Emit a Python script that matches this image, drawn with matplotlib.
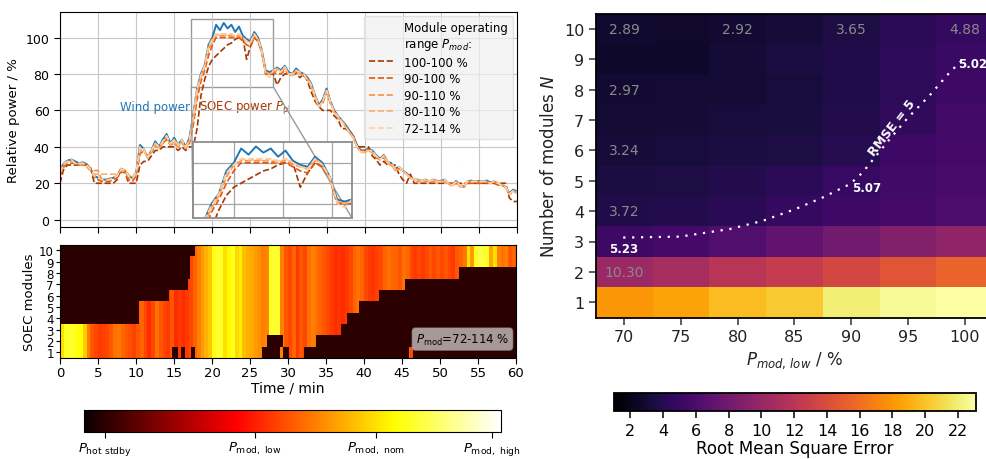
import numpy as np
import matplotlib.pyplot as plt
from matplotlib import colors
from matplotlib.lines import Line2D
from mpl_toolkits.axes_grid1.inset_locator import mark_inset

plt.rcParams['font.family'] = 'DejaVu Sans'

# ---------------- time series (0..60 min, every 0.5 min) ----------------
time = np.arange(0, 60.01, 0.5)

wind = [27, 31, 32.5, 33, 32, 31, 31.5, 30.5, 28, 24,
        23, 22, 22, 22.5, 23, 24, 28, 27, 24, 23,
        26, 41, 39, 34, 38, 43, 40, 44, 47, 42,
        45, 41, 44, 40, 45, 58, 72, 80, 85, 96,
        100, 107, 104, 108, 105, 107, 103, 106, 101, 99,
        98, 103, 100, 93, 82, 81, 82, 83.5, 82, 84.5,
        81, 80, 83, 81, 80, 78, 74.5, 68, 63, 66,
        72, 65, 60, 57, 54.5, 52, 49, 46, 41, 38,
        38, 39, 38, 35.5, 33.5, 35.5, 32, 31, 28, 29,
        27, 25.5, 23.5, 22, 22, 21.3, 22, 21, 22, 21.3,
        21.3, 22, 20, 19, 21.3, 19, 18, 21, 21.5, 21,
        21.3, 21, 21.5, 20.5, 21, 20, 19, 18, 14.5, 16.5,
        15.5]

p_100_100 = [20, 28, 30, 30, 30, 30, 30, 30, 29, 20,
             20, 20, 20, 20, 20, 22, 28, 27, 20, 20,
             20, 30, 32, 32, 35, 38, 38, 40, 40, 40,
             40, 38, 40, 38, 40, 40, 50, 68, 77, 84,
             88, 90, 92, 94, 96, 97, 99, 100, 100, 88,
             95, 100, 98, 92, 80, 80, 80, 74, 78, 80,
             80, 80, 80, 78, 80, 76, 70, 65, 62, 60,
             60, 60, 57, 55, 50, 50, 48, 45, 40, 40,
             40, 40, 35, 33, 30, 32, 30, 30, 30, 25,
             22, 20, 25, 20, 20, 20, 20, 20, 20, 20,
             20, 20, 20, 20, 20, 20, 20, 20, 20, 20,
             20, 20, 20, 20, 20, 20, 20, 20, 12, 10,
             10]

p_90_100 = [24, 29, 31, 31, 31, 30, 30, 30, 28, 23,
            22, 21, 21, 21, 22, 23, 26, 26, 22, 21,
            24, 36, 38, 35, 37, 40, 40, 42, 44, 41,
            42, 40, 42, 40, 42, 52, 66, 76, 82, 90,
            96, 100, 100, 100, 100, 100, 100, 100, 98, 96,
            95, 100, 98, 92, 80, 80, 81, 80, 80, 82,
            80, 79, 81, 80, 79, 77, 73, 68, 62, 64,
            70, 64, 60, 56, 54, 52, 48, 46, 40, 38,
            38, 38, 37, 34, 33, 34, 31, 30, 28, 28,
            27, 25, 23, 22, 21, 21, 21, 21, 21, 21,
            21, 21, 20, 19, 20, 19, 18, 20, 20, 20,
            20, 20, 20, 20, 20, 19, 19, 18, 14, 15,
            15]

p_90_110 = [25, 30, 32, 32, 31, 30, 30, 29, 27, 27,
            27, 22, 22, 22, 23, 24, 27, 27, 23, 22,
            25, 38, 38, 35, 37, 41, 39, 42, 45, 41,
            43, 40, 43, 39, 43, 55, 70, 78, 84, 93,
            99, 101, 101, 101, 101, 101, 100, 101, 99, 98,
            97, 101, 99, 92, 81, 80, 81, 82, 81, 83,
            80, 79, 82, 80, 79, 77, 73, 67, 62, 65,
            71, 64, 59, 56, 54, 51, 48, 45, 40, 37,
            37, 38, 37, 35, 33, 35, 31, 30, 27, 28,
            27, 25, 23, 22, 21, 21, 21, 21, 21, 21,
            21, 21, 20, 19, 21, 19, 18, 21, 21, 21,
            21, 21, 21, 20, 21, 20, 19, 18, 14, 16,
            15]

p_80_110 = [26, 30, 32, 32, 31, 30, 31, 30, 27, 25,
            25, 25, 25, 25, 25, 25, 27, 27, 25, 23,
            25, 39, 38, 34, 37, 42, 39, 43, 46, 41,
            44, 40, 43, 39, 44, 56, 71, 79, 84, 95,
            99, 102, 101, 102, 101, 102, 100, 102, 100, 98,
            97, 102, 99, 92, 81, 80, 81, 83, 81, 84,
            80, 79, 82, 80, 79, 77, 73, 67, 62, 65,
            71, 64, 59, 56, 54, 51, 48, 45, 40, 37,
            37, 38, 37, 35, 33, 35, 31, 30, 27, 28,
            27, 25, 23, 22, 22, 21, 22, 21, 22, 21,
            21, 21, 20, 18, 21, 18, 18, 21, 21, 21,
            21, 21, 21, 20, 21, 20, 19, 18, 14, 16,
            15]

p_72_114 = [26, 31, 32, 33, 31, 31, 31, 30, 28, 24,
            23, 22, 22, 22, 23, 24, 28, 27, 24, 23,
            26, 40, 39, 34, 38, 42, 40, 43, 46, 42,
            44, 41, 44, 40, 44, 57, 72, 79, 85, 95,
            99, 102, 102, 102, 102, 102, 101, 102, 100, 98,
            97, 102, 99, 93, 80, 78, 82, 83, 81, 84,
            80, 80, 82, 81, 80, 77, 74, 68, 62, 65,
            71, 65, 59, 57, 54, 51, 48, 45, 40, 37,
            38, 38, 38, 35, 33, 35, 32, 31, 28, 29,
            27, 25, 23, 22, 22, 21, 22, 21, 22, 21,
            21, 22, 20, 19, 21, 19, 18, 21, 21, 21,
            21, 21, 21, 20, 21, 20, 19, 18, 14, 16,
            15]

range_labels = ['100-100 %', '90-100 %', '90-110 %', '80-110 %', '72-114 %']
range_series = [p_100_100, p_90_100, p_90_110, p_80_110, p_72_114]
range_colors = ['#a63603', '#e6550d', '#fd8d3c', '#fdae6b', '#fdd0a2']

# ---------------- module states for P_mod = 72-114 % ----------------
# intervals (min) in which each module is running, else hot standby
module_on = {
    1: [(0, 14.7), (15.5, 15.9), (16.5, 17.3), (17.8, 26.6), (29.0, 29.4), (30.1, 32.1), (45.9, 46.5)],
    2: [(0, 27.3), (29.3, 33.7)],
    3: [(0, 37.0)],
    4: [(10.4, 37.7)],
    5: [(10.4, 39.4)],
    6: [(14.4, 42.0)],
    7: [(16.9, 45.4)],
    8: [(17.1, 52.5)],
    9: [(17.1, 60)],
    10: [(17.8, 60)],
}
# load of the running modules in % (per 0.5 min)
module_load = [100, 104, 105, 104, 103, 102, 97, 86, 80, 78,
               76, 77, 78, 80, 84, 85, 82, 80, 79, 77,
               80, 82, 78, 74, 78, 84, 80, 78, 76, 80,
               74, 76, 74, 76, 78, 82, 86, 90, 93, 96,
               103, 105, 104, 100, 102, 104, 99, 101, 95, 93,
               92, 90, 88, 86, 87, 104, 105, 104, 86, 80,
               78, 82, 76, 80, 78, 84, 86, 84, 82, 80,
               78, 76, 74, 75, 74, 76, 78, 82, 84, 82,
               78, 76, 75, 77, 78, 82, 84, 82, 82, 80,
               84, 82, 78, 76, 78, 76, 78, 80, 78, 80,
               78, 80, 78, 76, 80, 82, 85, 100, 90, 104,
               106, 105, 104, 92, 100, 86, 84, 86, 80, 82]
standby_load = 0
load_knots = [-10, 0, 72, 100, 114, 116]      # hot stdby, low, nom, high
load_frac = [0, 0.05, 0.41, 0.70, 0.978, 1.0]
load_ticklabels = [r'$P_\mathrm{hot\ stdby}$', r'$P_\mathrm{mod,\ low}$',
                   r'$P_\mathrm{mod,\ nom}$', r'$P_\mathrm{mod,\ high}$']

# ---------------- RMSE grid ----------------
p_low = [70, 75, 80, 85, 90, 95, 100]
n_modules = [1, 2, 3, 4, 5, 6, 7, 8, 9, 10]
rmse = [
    [18.0, 18.6, 19.7, 20.3, 22.0, 22.7, 23.1],   # N=1
    [10.30, 10.9, 11.9, 12.6, 13.6, 14.5, 15.4],  # N=2
    [5.23, 5.6, 6.3, 7.1, 8.0, 8.9, 9.6],         # N=3
    [3.72, 3.9, 4.2, 4.8, 5.3, 5.6, 6.0],         # N=4
    [3.45, 3.6, 3.9, 4.3, 4.9, 5.4, 5.8],         # N=5
    [3.24, 3.3, 3.5, 3.6, 4.1, 5.3, 5.6],         # N=6
    [3.05, 3.1, 3.3, 3.4, 3.9, 4.6, 5.5],         # N=7
    [2.97, 3.0, 3.0, 3.3, 3.8, 4.4, 5.3],         # N=8
    [2.70, 2.7, 3.1, 3.5, 3.7, 4.5, 5.0],         # N=9
    [2.89, 2.8, 2.92, 3.2, 3.65, 4.3, 4.88],      # N=10
]
# RMSE = 5 iso-line
iso_x = [69.9, 74.9, 79.3, 82.2, 85.1, 87.5, 89.9, 91.0, 92.2, 93.4, 94.9, 96.9, 98.7, 99.9]
iso_y = [3.13, 3.16, 3.41, 3.68, 4.07, 4.45, 4.89, 5.27, 5.82, 6.37, 7.03, 7.8, 8.57, 9.01]
iso_labels = [('5.23', 69.9, 2.78, 'center'), ('5.07', 90.1, 4.78, 'left'), ('5.02', 99.4, 8.85, 'left')]
shown_cells = [(70, 10), (80, 10), (90, 10), (100, 10), (70, 8), (70, 6), (70, 4), (70, 2)]

W, H = 987, 460
fig = plt.figure(figsize=(W / 100, H / 100), dpi=100)


def box(l, t, r, b):
    return [l / W, 1 - b / H, (r - l) / W, (b - t) / H]


# ---------------- top: relative power ----------------
ax = fig.add_axes(box(60, 13, 517, 228))
axins = fig.add_axes(box(193, 143, 352, 219))
for a in (ax, axins):
    a.plot(time, wind, color='#1f77b4', lw=1.4)
    for s, c in zip(range_series, range_colors):
        a.plot(time, s, color=c, lw=1.2, ls='--')
    a.grid(True, color='0.78', lw=0.8)

ax.set_xlim(0, 60)
ax.set_ylim(-4, 114)
ax.set_xticks(np.arange(0, 61, 5))
ax.set_xticklabels([])
ax.set_yticks(np.arange(0, 101, 20))
ax.tick_params(labelsize=9, length=4)
ax.set_ylabel('Relative power / %', fontsize=9.5)
ax.text(17.1, 62, 'Wind power', color='#1f77b4', fontsize=8.5, ha='right', va='center')
ax.text(18.2, 62, r'SOEC power $P_\mathrm{pl}$', color='#a63603', fontsize=8.5,
        ha='left', va='center', zorder=1)

handles = [Line2D([], [], lw=0)] + [Line2D([], [], color=c, ls='--', lw=1.2) for c in range_colors]
labels = ['Module operating\nrange $P_{mod}$:'] + range_labels
ax.legend(handles, labels, loc='upper right', fontsize=8.5, handlelength=2.2,
          facecolor='0.94', edgecolor='0.85', framealpha=0.7, borderaxespad=0.35,
          labelspacing=0.3)

axins.set_xlim(17.24, 28.0)
axins.set_ylim(72.9, 110.2)
axins.set_xticks([20, 20 + 10 / 3, 20 + 20 / 3])
axins.set_yticks([80, 90, 100])
axins.tick_params(length=0, labelbottom=False, labelleft=False)
axins.grid(True, color='0.65', lw=0.9)
for sp in axins.spines.values():
    sp.set_color('0.55')
    sp.set_linewidth(1.3)
mark_inset(ax, axins, loc1=3, loc2=4, fc='none', ec='0.6', lw=1.0)

# ---------------- bottom: module heatmap ----------------
axh = fig.add_axes(box(60, 245.5, 516, 359))
t_edges = np.arange(0, 60.001, 0.1)
t_mid = t_edges[:-1] + 0.05
grid = np.full((len(n_modules), len(t_mid)), float(standby_load))
for m, ivs in module_on.items():
    for (t0, t1) in ivs:
        sel = (t_mid >= t0) & (t_mid < t1)
        idx = np.minimum((t_mid[sel] // 0.5).astype(int), len(module_load) - 1)
        grid[m - 1, sel] = np.array(module_load)[idx]

fwd = lambda x: np.interp(x, load_knots, load_frac)
inv = lambda y: np.interp(y, load_frac, load_knots)
norm = colors.FuncNorm((fwd, inv), vmin=load_knots[0], vmax=load_knots[-1])
y_edges = np.arange(0.5, 10.6, 1)
mesh = axh.pcolormesh(t_edges, y_edges, grid, cmap='hot', norm=norm, shading='flat')
axh.set_xlim(0, 60)
axh.set_ylim(0.5, 10.5)
axh.set_xticks(np.arange(0, 61, 5))
axh.set_yticks(n_modules)
axh.tick_params(axis='x', labelsize=9.5, length=4, pad=1.5)
axh.tick_params(axis='y', labelsize=8.5, length=3, pad=1.5)
axh.set_xlabel('Time / min', fontsize=10, labelpad=1)
axh.set_ylabel('SOEC modules', fontsize=9.5, labelpad=2)
axh.text(0.985, 0.10, r'$P_\mathrm{mod}$=72-114 %', transform=axh.transAxes, ha='right',
         va='bottom', fontsize=8.5,
         bbox=dict(boxstyle='round,pad=0.3', fc='white', ec='0.6', alpha=0.6))

cax1 = fig.add_axes(box(84, 411, 501, 433))
cb1 = fig.colorbar(mesh, cax=cax1, orientation='horizontal')
cb1.set_ticks(load_knots[1:5])
cb1.set_ticklabels(load_ticklabels)
cb1.ax.tick_params(labelsize=9.5, length=4, pad=1.5)
cb1.ax.minorticks_off()

# ---------------- right: RMSE heatmap ----------------
axr = fig.add_axes(box(596, 14.5, 993, 318.5))
x_edges = np.arange(p_low[0] - 2.5, p_low[-1] + 2.6, 5)
n_edges = np.arange(0.5, 10.6, 1)
rm = axr.pcolormesh(x_edges, n_edges, np.array(rmse), cmap='inferno', vmin=1.0, vmax=23.1)
axr.set_xlim(x_edges[0], x_edges[-1])
axr.set_ylim(0.5, 10.5)
axr.set_xticks(p_low)
axr.set_yticks(n_modules)
axr.tick_params(labelsize=11.5, length=5, width=1.1, colors='#333333', labelcolor='#222222')
for sp in axr.spines.values():
    sp.set_linewidth(1.3)
axr.set_xlabel(r'$P_{mod,\,low}$ / %', fontsize=12, color='#222222')
axr.set_ylabel('Number of modules $N$', fontsize=12, color='#222222')

for (px, n) in shown_cells:
    v = rmse[n - 1][p_low.index(px)]
    axr.text(px, n, f'{v:.2f}', color='#8a8a8a', fontsize=10, ha='center', va='center')

axr.plot(iso_x, iso_y, color='white', ls=(0, (1, 3)), lw=1.6)
for s, lx, ly, ha in iso_labels:
    axr.text(lx, ly, s, color='white', fontsize=8.5, fontweight='bold', ha=ha, va='center')
axr.text(93.6, 6.75, 'RMSE = 5', color='white', fontsize=9, fontweight='bold', rotation=52,
         ha='center', va='center')

cax2 = fig.add_axes(box(614, 394, 976, 412))
cb2 = fig.colorbar(rm, cax=cax2, orientation='horizontal')
cb2.set_ticks(np.arange(2, 23, 2))
cb2.ax.tick_params(labelsize=11.5, length=5, width=1.1)
cb2.outline.set_linewidth(1.3)
cb2.set_label('Root Mean Square Error', fontsize=12, labelpad=1)

fig.savefig('out.png', dpi=100)
